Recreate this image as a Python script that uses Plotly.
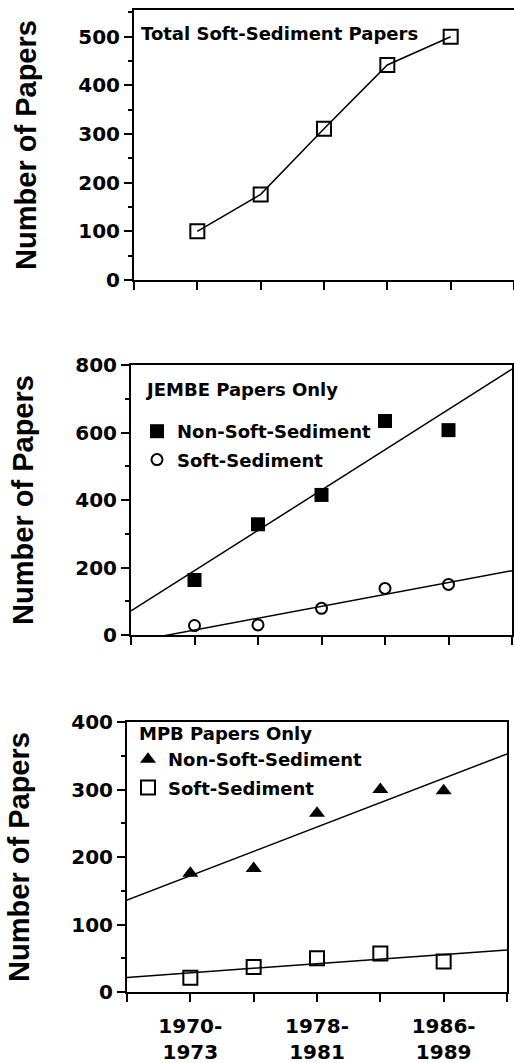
import numpy as np
import plotly.graph_objects as go

# ---------------- data ----------------
periods = ["1970-1973", "1974-1977", "1978-1981", "1982-1985", "1986-1989"]
total_soft = [100, 176, 311, 442, 500]
jembe_non_soft = [163, 328, 415, 634, 607]
jembe_soft = [28, 30, 79, 138, 150]
mpb_non_soft = [176, 183, 265, 300, 298]
mpb_soft = [21, 37, 50, 57, 45]

x_pos = list(range(1, len(periods) + 1))
x_range = [0, len(periods) + 1]

W, H = 514, 1063
BLACK = "black"
TICKFONT = dict(family="DejaVu Sans", size=20, color=BLACK, weight="bold")
XTICKFONT = dict(family="DejaVu Sans", size=20, color=BLACK, weight="bold")
TEXTFONT = dict(family="DejaVu Sans", size=18, color=BLACK, weight="bold")
TITLEFONT = dict(family="Liberation Sans", size=29, color=BLACK, weight="bold")


def fit_line(y):
    slope, intercept = np.polyfit(x_pos, y, 1)
    xs = np.array(x_range, dtype=float)
    return xs, slope * xs + intercept


fig = go.Figure()

# panel 1
fig.add_trace(go.Scatter(
    x=x_pos, y=total_soft, mode="lines+markers", xaxis="x", yaxis="y",
    line=dict(color=BLACK, width=1.5),
    marker=dict(symbol="square-open", size=14, color=BLACK, line=dict(width=2)),
    showlegend=False, name="Total Soft-Sediment Papers"))

# panel 2
for yv in (jembe_non_soft, jembe_soft):
    fx, fy = fit_line(yv)
    fig.add_trace(go.Scatter(x=fx, y=fy, mode="lines", xaxis="x2", yaxis="y2",
                             line=dict(color=BLACK, width=1.5), showlegend=False,
                             hoverinfo="skip"))
fig.add_trace(go.Scatter(
    x=x_pos, y=jembe_non_soft, mode="markers", xaxis="x2", yaxis="y2",
    marker=dict(symbol="square", size=14, color=BLACK),
    name="Non-Soft-Sediment", legend="legend2", legendgroup="a"))
fig.add_trace(go.Scatter(
    x=x_pos, y=jembe_soft, mode="markers", xaxis="x2", yaxis="y2",
    marker=dict(symbol="circle-open", size=11, color=BLACK, line=dict(width=2)),
    name="Soft-Sediment", legend="legend2", legendgroup="b"))

# panel 3
for yv in (mpb_non_soft, mpb_soft):
    fx, fy = fit_line(yv)
    fig.add_trace(go.Scatter(x=fx, y=fy, mode="lines", xaxis="x3", yaxis="y3",
                             line=dict(color=BLACK, width=1.5), showlegend=False,
                             hoverinfo="skip"))
fig.add_trace(go.Scatter(
    x=x_pos, y=mpb_non_soft, mode="markers", xaxis="x3", yaxis="y3",
    marker=dict(symbol="triangle-up", size=14, color=BLACK),
    name="Non-Soft-Sediment", legend="legend3", legendgroup="c"))
fig.add_trace(go.Scatter(
    x=x_pos, y=mpb_soft, mode="markers", xaxis="x3", yaxis="y3",
    marker=dict(symbol="square-open", size=14, color=BLACK, line=dict(width=2)),
    name="Soft-Sediment", legend="legend3", legendgroup="d"))


def px_x(p):
    return min(1.0, p / W)


def px_y(p):
    return 1 - p / H


def xaxis(left, right, labels):
    tick_vals = list(range(x_range[0], x_range[1] + 1))
    tick_text = [""] * len(tick_vals)
    for i, p in enumerate(periods):
        if i % 2 == 0:
            a, b = p.split("-")
            tick_text[x_pos[i]] = f"{a}-<br>{b}"
    return dict(domain=[px_x(left), px_x(right)], range=x_range,
                tickvals=tick_vals, ticktext=tick_text, showticklabels=labels,
                ticks="outside", ticklen=8, tickwidth=2, tickcolor=BLACK,
                ticklabelstandoff=7,
                showline=True, linewidth=2, linecolor=BLACK, mirror=True,
                showgrid=False, zeroline=False, automargin=False,
                tickfont=XTICKFONT)


def yaxis(top, bottom, rng, dtick, anchor, mirror=True):
    return dict(domain=[px_y(bottom), px_y(top)], range=rng, dtick=dtick,
                ticks="outside", ticklen=8, tickwidth=2, tickcolor=BLACK,
                minor=dict(ticks="outside", ticklen=4, tickwidth=1.5,
                           tickcolor=BLACK, dtick=dtick / 2),
                showline=True, linewidth=2, linecolor=BLACK, mirror=mirror,
                showgrid=False, zeroline=False, anchor=anchor,
                tickfont=TICKFONT,
                title=dict(text="Number of Papers", font=TITLEFONT, standoff=33),
                automargin=False)


fig.update_layout(
    width=W, height=H, margin=dict(l=0, r=0, t=0, b=0, autoexpand=False),
    paper_bgcolor="white", plot_bgcolor="white",
    xaxis=xaxis(134, 514, False),
    yaxis=yaxis(10, 280, [0, 555], 100, "x", mirror=False),
    xaxis2=dict(xaxis(131, 512, False), anchor="y2"),
    yaxis2=yaxis(365, 635, [0, 800], 200, "x2"),
    xaxis3=dict(xaxis(127, 507, True), anchor="y3"),
    yaxis3=yaxis(722, 992, [0, 400], 100, "x3"),
    legend2=dict(x=px_x(137), y=px_y(413), xanchor="left", yanchor="top",
                 font=TEXTFONT, bgcolor="rgba(0,0,0,0)", tracegroupgap=2,
                 itemwidth=30),
    legend3=dict(x=px_x(128), y=px_y(741), xanchor="left", yanchor="top",
                 font=TEXTFONT, bgcolor="rgba(0,0,0,0)", tracegroupgap=2,
                 itemwidth=30),
    annotations=[
        dict(text="Total Soft-Sediment Papers", x=px_x(139), y=px_y(34),
             xref="paper", yref="paper", xanchor="left", yanchor="middle",
             showarrow=False, font=TEXTFONT),
        dict(text="JEMBE Papers Only", x=px_x(143), y=px_y(390),
             xref="paper", yref="paper", xanchor="left", yanchor="middle",
             showarrow=False, font=TEXTFONT),
        dict(text="MPB Papers Only", x=px_x(137), y=px_y(733),
             xref="paper", yref="paper", xanchor="left", yanchor="middle",
             showarrow=False, font=TEXTFONT),
    ],
)

fig.write_html(
    "out.html",
    config={"displayModeBar": False},
    post_script="document.body.style.margin='0';document.body.style.overflow='hidden';",
)
